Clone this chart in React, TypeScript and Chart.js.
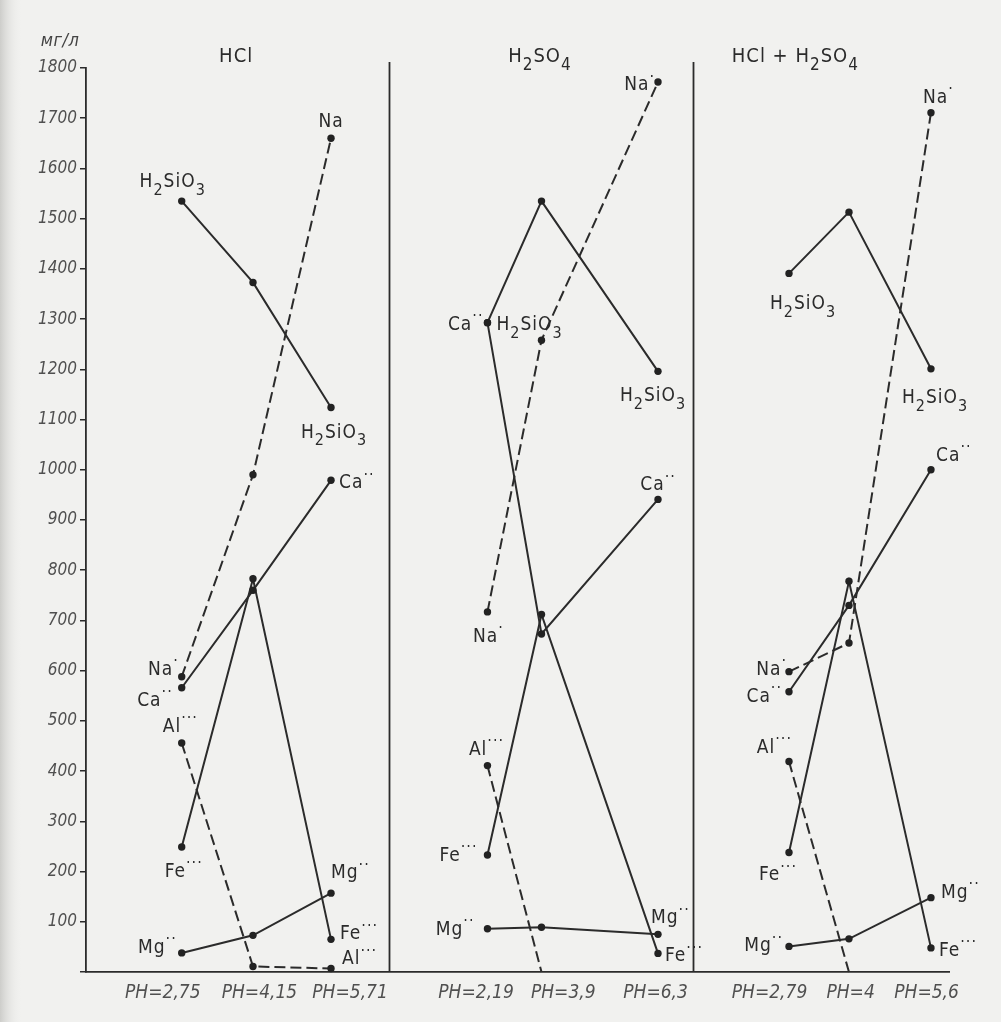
import React, { useEffect, useRef } from 'react';
import { Chart, registerables } from 'chart.js';

Chart.register(...registerables);

// ---------------- data ----------------
const panelTitles = ['HCl', 'H2SO4', 'HCl + H2SO4'];
const phLabels = ['PH=2,75', 'PH=4,15', 'PH=5,71', 'PH=2,19', 'PH=3,9', 'PH=6,3', 'PH=2,79', 'PH=4', 'PH=5,6'];
const yUnit = 'мг/л';

const naValues = [588, 990, 1660, 717, 1258, 1772, 598, 655, 1711];
const h2sio3Values = [1535, 1373, 1124, 1293, 1535, 1196, 1391, 1513, 1201];
const caValues = [566, 760, 979, 1293, 673, 941, 558, 730, 1000];
const feValues = [249, 783, 65, 233, 712, 37, 238, 778, 48];
const alValues: (number | null)[] = [456, 11, 7, 411, 0, null, 419, 0, null];
const mgValues = [38, 73, 157, 86, 89, 75, 51, 66, 148];

// ---------------- layout (axis units 0..100 across the plot width) ----------------
const SLOT_X = [11.09, 19.35, 28.39, 46.52, 52.78, 66.28, 81.46, 88.41, 97.91];
const TICK_X = [8.9, 20.1, 30.6, 45.2, 55.3, 66.0, 79.2, 88.6, 97.4];
const DIVIDER_X = [35.1, 70.3];
const TITLE_X = [17.4, 52.6, 82.2];

const FONT = '"DejaVu Sans Condensed", "DejaVu Sans", sans-serif';
const INK = '#2b2b2b';
const PAPER = '#f1f1ef';

type Seg = [string, number]; // 0 normal, 1 subscript, 2 superscript
const richFormula = (s: string): Seg[] => {
  const out: Seg[] = [];
  for (const part of s.split(/(\d+)/)) {
    if (!part) continue;
    out.push([part, /^\d+$/.test(part) ? 1 : 0]);
  }
  return out;
};
const ion = (name: string, charge: number): Seg[] => [[name, 0], ['·'.repeat(charge), 2]];

const SERIES: Record<string, (number | null)[]> = {
  na: naValues,
  h2sio3: h2sio3Values,
  ca: caValues,
  fe: feValues,
  al: alValues,
  mg: mgValues,
};

const DATASETS = [
  { key: 'h2sio3', dash: [] as number[] },
  { key: 'ca', dash: [] as number[] },
  { key: 'fe', dash: [] as number[] },
  { key: 'mg', dash: [] as number[] },
  { key: 'na', dash: [11, 5] },
  { key: 'al', dash: [11, 5] },
];

type Lbl = { s: string; i: number; t: Seg[]; a: 'left' | 'center' | 'right'; dx: number; dy: number };
const H2SIO3 = richFormula('H2SiO3');
const LABELS: Lbl[] = [
  // HCl
  { s: 'na', i: 2, t: [['Na', 0]], a: 'center', dx: 0, dy: -11 },
  { s: 'h2sio3', i: 0, t: H2SIO3, a: 'center', dx: -9, dy: -14 },
  { s: 'h2sio3', i: 2, t: H2SIO3, a: 'center', dx: 3, dy: 30 },
  { s: 'ca', i: 2, t: ion('Ca', 2), a: 'left', dx: 8, dy: 8 },
  { s: 'na', i: 0, t: ion('Na', 1), a: 'right', dx: -3, dy: -2 },
  { s: 'ca', i: 0, t: ion('Ca', 2), a: 'right', dx: -9, dy: 18 },
  { s: 'al', i: 0, t: ion('Al', 3), a: 'left', dx: -19, dy: -11 },
  { s: 'fe', i: 0, t: ion('Fe', 3), a: 'left', dx: -17, dy: 30 },
  { s: 'mg', i: 0, t: ion('Mg', 2), a: 'right', dx: -5, dy: 0 },
  { s: 'mg', i: 2, t: ion('Mg', 2), a: 'left', dx: 0, dy: -15 },
  { s: 'fe', i: 2, t: ion('Fe', 3), a: 'left', dx: 9, dy: 0 },
  { s: 'al', i: 2, t: ion('Al', 3), a: 'left', dx: 11, dy: -4 },
  // H2SO4
  { s: 'na', i: 5, t: ion('Na', 1), a: 'right', dx: -3, dy: 8 },
  { s: 'ca', i: 3, t: ion('Ca', 2), a: 'right', dx: -4, dy: 7 },
  { s: 'h2sio3', i: 3, t: H2SIO3, a: 'left', dx: 9, dy: 7 },
  { s: 'h2sio3', i: 5, t: H2SIO3, a: 'center', dx: -5, dy: 30 },
  { s: 'ca', i: 5, t: ion('Ca', 2), a: 'center', dx: 0, dy: -9 },
  { s: 'na', i: 3, t: ion('Na', 1), a: 'center', dx: 1, dy: 30 },
  { s: 'al', i: 3, t: ion('Al', 3), a: 'center', dx: -1, dy: -11 },
  { s: 'fe', i: 3, t: ion('Fe', 3), a: 'right', dx: -10, dy: 6 },
  { s: 'mg', i: 3, t: ion('Mg', 2), a: 'right', dx: -13, dy: 6 },
  { s: 'mg', i: 5, t: ion('Mg', 2), a: 'left', dx: -7, dy: -11 },
  { s: 'fe', i: 5, t: ion('Fe', 3), a: 'left', dx: 7, dy: 8 },
  // HCl + H2SO4
  { s: 'na', i: 8, t: ion('Na', 1), a: 'left', dx: -8, dy: -10 },
  { s: 'h2sio3', i: 6, t: H2SIO3, a: 'center', dx: 14, dy: 36 },
  { s: 'h2sio3', i: 8, t: H2SIO3, a: 'left', dx: -29, dy: 34 },
  { s: 'ca', i: 8, t: ion('Ca', 2), a: 'left', dx: 5, dy: -9 },
  { s: 'na', i: 6, t: ion('Na', 1), a: 'right', dx: -2, dy: 3 },
  { s: 'ca', i: 6, t: ion('Ca', 2), a: 'right', dx: -7, dy: 10 },
  { s: 'al', i: 6, t: ion('Al', 3), a: 'right', dx: 3, dy: -9 },
  { s: 'fe', i: 6, t: ion('Fe', 3), a: 'center', dx: -11, dy: 28 },
  { s: 'mg', i: 6, t: ion('Mg', 2), a: 'right', dx: -6, dy: 5 },
  { s: 'mg', i: 8, t: ion('Mg', 2), a: 'left', dx: 10, dy: 0 },
  { s: 'fe', i: 8, t: ion('Fe', 3), a: 'left', dx: 8, dy: 8 },
];

function drawRich(
  ctx: CanvasRenderingContext2D,
  segs: Seg[],
  x: number,
  y: number,
  size: number,
  align: 'left' | 'center' | 'right',
  color: string,
  style = ''
) {
  const fontFor = (k: number) =>
    `${style} ${k === 0 ? size : k === 1 ? Math.round(size * 0.85) : Math.round(size * 0.85)}px ${FONT}`;
  const widths: number[] = [];
  let total = 0;
  for (const [t, k] of segs) {
    ctx.font = fontFor(k);
    const w = ctx.measureText(t).width;
    widths.push(w);
    total += w;
  }
  let cx = align === 'left' ? x : align === 'center' ? x - total / 2 : x - total;
  ctx.fillStyle = color;
  ctx.textAlign = 'left';
  ctx.textBaseline = 'alphabetic';
  segs.forEach(([t, k], idx) => {
    ctx.font = fontFor(k);
    const oy = k === 1 ? size * 0.42 : k === 2 ? -size * 0.45 : 0;
    ctx.fillText(t, cx, y + oy);
    cx += widths[idx];
  });
}

const paperPlugin = {
  id: 'paper',
  beforeDraw(chart: any) {
    const { ctx, width, height } = chart;
    ctx.save();
    ctx.fillStyle = PAPER;
    ctx.fillRect(0, 0, width, height);
    const g = ctx.createLinearGradient(0, 0, 22, 0);
    g.addColorStop(0, '#cdcdca');
    g.addColorStop(1, 'rgba(241,241,239,0)');
    ctx.fillStyle = g;
    ctx.fillRect(0, 0, 22, height);
    ctx.restore();
  },
};

const decorPlugin = {
  id: 'decor',
  afterDraw(chart: any) {
    const { ctx, chartArea, scales } = chart;
    const xs = scales.x;
    const ys = scales.y;
    ctx.save();
    // panel dividers
    ctx.strokeStyle = INK;
    ctx.lineWidth = 1.8;
    for (const d of DIVIDER_X) {
      const px = Math.round(xs.getPixelForValue(d)) + 0.5;
      ctx.beginPath();
      ctx.moveTo(px, chartArea.top - 6);
      ctx.lineTo(px, chartArea.bottom);
      ctx.stroke();
    }
    // panel titles
    (ctx as any).letterSpacing = '1px';
    panelTitles.forEach((t, k) => {
      drawRich(ctx, richFormula(t), xs.getPixelForValue(TITLE_X[k]), 62, 20, 'center', INK);
    });
    // unit
    (ctx as any).letterSpacing = '0.5px';
    ctx.font = `italic 18px ${FONT}`;
    ctx.fillStyle = '#444';
    ctx.textAlign = 'center';
    ctx.textBaseline = 'alphabetic';
    ctx.fillText(yUnit, 60, 46);
    // point labels
    (ctx as any).letterSpacing = '1px';
    for (const l of LABELS) {
      const v = SERIES[l.s][l.i];
      if (v === null || v === undefined) continue;
      const px = xs.getPixelForValue(SLOT_X[l.i]);
      const py = ys.getPixelForValue(v);
      drawRich(ctx, l.t, px + l.dx, py + l.dy, 19, l.a, INK);
    }
    ctx.restore();
  },
};

function buildData(values: (number | null)[]) {
  const pts: { x: number; y: number | null }[] = [];
  values.forEach((v, i) => {
    if (i > 0 && i % 3 === 0) pts.push({ x: DIVIDER_X[i / 3 - 1], y: null });
    if (v !== null) pts.push({ x: SLOT_X[i], y: v });
  });
  return pts;
}

export default function App() {
  const ref = useRef<HTMLCanvasElement>(null);
  useEffect(() => {
    if (!ref.current) return;
    Chart.defaults.font.family = FONT;
    const chart = new Chart(ref.current, {
      type: 'line',
      data: {
        datasets: DATASETS.map((d) => ({
          label: d.key,
          data: buildData(SERIES[d.key]) as any,
          borderColor: INK,
          borderWidth: 2,
          borderDash: d.dash,
          pointRadius: (c: any) => (c.raw && c.raw.y === 0 ? 0 : 3.7),
          pointHoverRadius: 0,
          pointBackgroundColor: '#222',
          pointBorderWidth: 0,
          spanGaps: false,
          tension: 0,
          fill: false,
          clip: false as any,
        })),
      },
      options: {
        animation: false,
        responsive: false,
        devicePixelRatio: 1,
        layout: { padding: { top: 68, right: 52, bottom: 0, left: 0 } },
        plugins: {
          legend: { display: false },
          tooltip: { enabled: false },
          title: { display: false },
        },
        events: [],
        scales: {
          x: {
            type: 'linear',
            min: 0,
            max: 100,
            afterBuildTicks: (ax: any) => {
              ax.ticks = TICK_X.map((v) => ({ value: v }));
            },
            afterFit: (ax: any) => {
              ax.height = 50;
            },
            grid: { display: false, drawTicks: false },
            border: { display: true, color: INK, width: 1.8 },
            ticks: {
              autoSkip: false,
              maxRotation: 0,
              padding: 10,
              color: '#505050',
              font: { size: 19, style: 'italic', family: FONT },
              callback: (_v: any, i: number) => phLabels[i],
            },
          },
          y: {
            type: 'linear',
            min: 0,
            max: 1800,
            afterFit: (ax: any) => {
              ax.width = 86;
            },
            ticks: {
              stepSize: 100,
              autoSkip: false,
              padding: 3,
              color: '#505050',
              font: { size: 17, style: 'italic', family: FONT },
              callback: (v: any) => (Number(v) === 0 ? '' : String(v)),
            },
            grid: { drawOnChartArea: false, tickLength: 6, color: INK, lineWidth: 1.5 },
            border: { display: true, color: INK, width: 1.8 },
          },
        },
      } as any,
      plugins: [paperPlugin, decorPlugin],
    });
    return () => chart.destroy();
  }, []);
  return (
    <div style={{ position: 'fixed', left: 0, top: 0, width: 1001, height: 1022, background: PAPER, overflow: 'hidden' }}>
      <canvas ref={ref} width={1001} height={1022} style={{ display: 'block', width: 1001, height: 1022 }} />
    </div>
  );
}
